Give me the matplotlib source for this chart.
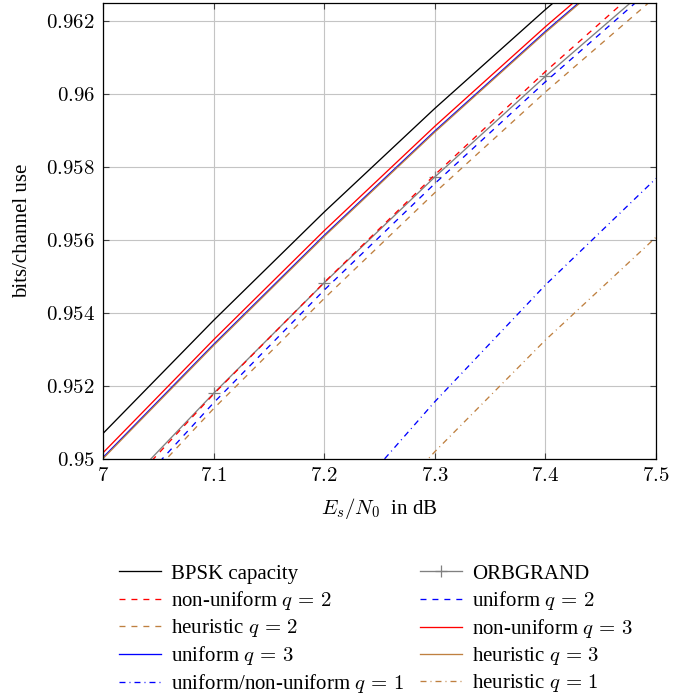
import numpy as np
import matplotlib
matplotlib.use('Agg')
import matplotlib.pyplot as plt
from matplotlib.ticker import FuncFormatter

# SNR grid in dB
snr = [7.0, 7.1, 7.2, 7.3, 7.4, 7.5]

# achievable rates (bits/channel use)
bpsk_capacity = [0.95070, 0.95380, 0.95677, 0.95961, 0.96232, 0.96490]
orbgrand = [0.94863, 0.95180, 0.95483, 0.95773, 0.96049, 0.96311]
nonuniform_q2 = [0.94851, 0.95178, 0.95484, 0.95779, 0.96062, 0.96331]
uniform_q2 = [0.94823, 0.95154, 0.95463, 0.95755, 0.96034, 0.96300]
heuristic_q2 = [0.94815, 0.95138, 0.95440, 0.95730, 0.96006, 0.96268]
nonuniform_q3 = [0.95017, 0.95327, 0.95626, 0.95912, 0.96185, 0.96445]
uniform_q3 = [0.95004, 0.95314, 0.95613, 0.95899, 0.96172, 0.96432]
heuristic_q3 = [0.95001, 0.95311, 0.95610, 0.95896, 0.96169, 0.96429]
uniform_q1 = [0.94082, 0.94452, 0.94812, 0.95157, 0.95477, 0.95769]
heuristic_q1 = [0.94000, 0.94350, 0.94690, 0.95020, 0.95326, 0.95608]

xticks = [7.0, 7.1, 7.2, 7.3, 7.4, 7.5]
yticks = [0.950, 0.952, 0.954, 0.956, 0.958, 0.960, 0.962]

plt.rcParams['font.family'] = ['Liberation Serif', 'DejaVu Serif']
plt.rcParams['mathtext.fontset'] = 'cm'
plt.rcParams['font.size'] = 15
plt.rcParams['lines.scale_dashes'] = False

BROWN = '#bf8040'
DASHED = (0, (4.3, 4.3))
DASHDOT = (0, (4.3, 2.9, 0.7, 2.9))
LW = 0.95

fig = plt.figure(figsize=(6.97, 6.98), dpi=100)
ax = fig.add_axes([103 / 697, 1 - 459 / 698, 553 / 697, 456 / 698])

h_bpsk, = ax.plot(snr, bpsk_capacity, color='black', lw=LW, label='BPSK capacity')
h_orb, = ax.plot(snr, orbgrand, color='gray', lw=LW, marker='+', ms=9, mew=0.9,
                 label='ORBGRAND')
h_nu2, = ax.plot(snr, nonuniform_q2, color='red', lw=LW, ls=DASHED,
                 label=r'non-uniform $q\,=\,2$')
h_u2, = ax.plot(snr, uniform_q2, color='blue', lw=LW, ls=DASHED,
                label=r'uniform $q\,=\,2$')
h_h2, = ax.plot(snr, heuristic_q2, color=BROWN, lw=LW, ls=DASHED,
                label=r'heuristic $q\,=\,2$')
h_nu3, = ax.plot(snr, nonuniform_q3, color='red', lw=LW,
                 label=r'non-uniform $q\,=\,3$')
h_u3, = ax.plot(snr, uniform_q3, color='blue', lw=LW, label=r'uniform $q\,=\,3$')
h_h3, = ax.plot(snr, heuristic_q3, color=BROWN, lw=LW,
                label=r'heuristic $q\,=\,3$')
h_u1, = ax.plot(snr, uniform_q1, color='blue', lw=LW, ls=DASHDOT,
                label=r'uniform/non-uniform $q\,=\,1$')
h_h1, = ax.plot(snr, heuristic_q1, color=BROWN, lw=LW, ls=DASHDOT,
                label=r'heuristic $q\,=\,1$')

ax.set_xlim(7.0, 7.5)
ax.set_ylim(0.95, 0.9625)
ax.set_xticks(xticks)
ax.set_yticks(yticks)
ax.xaxis.set_major_formatter(FuncFormatter(lambda v, p: '$%g$' % round(v, 3)))
ax.yaxis.set_major_formatter(FuncFormatter(lambda v, p: '$%g$' % round(v, 4)))
ax.tick_params(direction='in', length=4, width=0.8, color='#404040',
               top=True, right=True, pad=6)
ax.grid(True, color='#c4c4c4', lw=0.8)
ax.set_axisbelow(True)
for s in ax.spines.values():
    s.set_linewidth(0.9)

ax.set_xlabel(r'$E_s/N_0\;$ in dB', labelpad=7)
ax.set_ylabel('bits/channel use', labelpad=10)

# pgfplots fills legend rows first, matplotlib fills columns first
handles = [h_bpsk, h_nu2, h_h2, h_u3, h_u1, h_orb, h_u2, h_nu3, h_h3, h_h1]
ax.legend(handles=handles, ncol=2, loc='upper center',
          bbox_to_anchor=(0.494, -0.212), frameon=False, handlelength=2.0,
          handletextpad=0.5, columnspacing=0.75, labelspacing=0.25,
          numpoints=1, borderaxespad=0)

fig.savefig('out.png', dpi=100)
